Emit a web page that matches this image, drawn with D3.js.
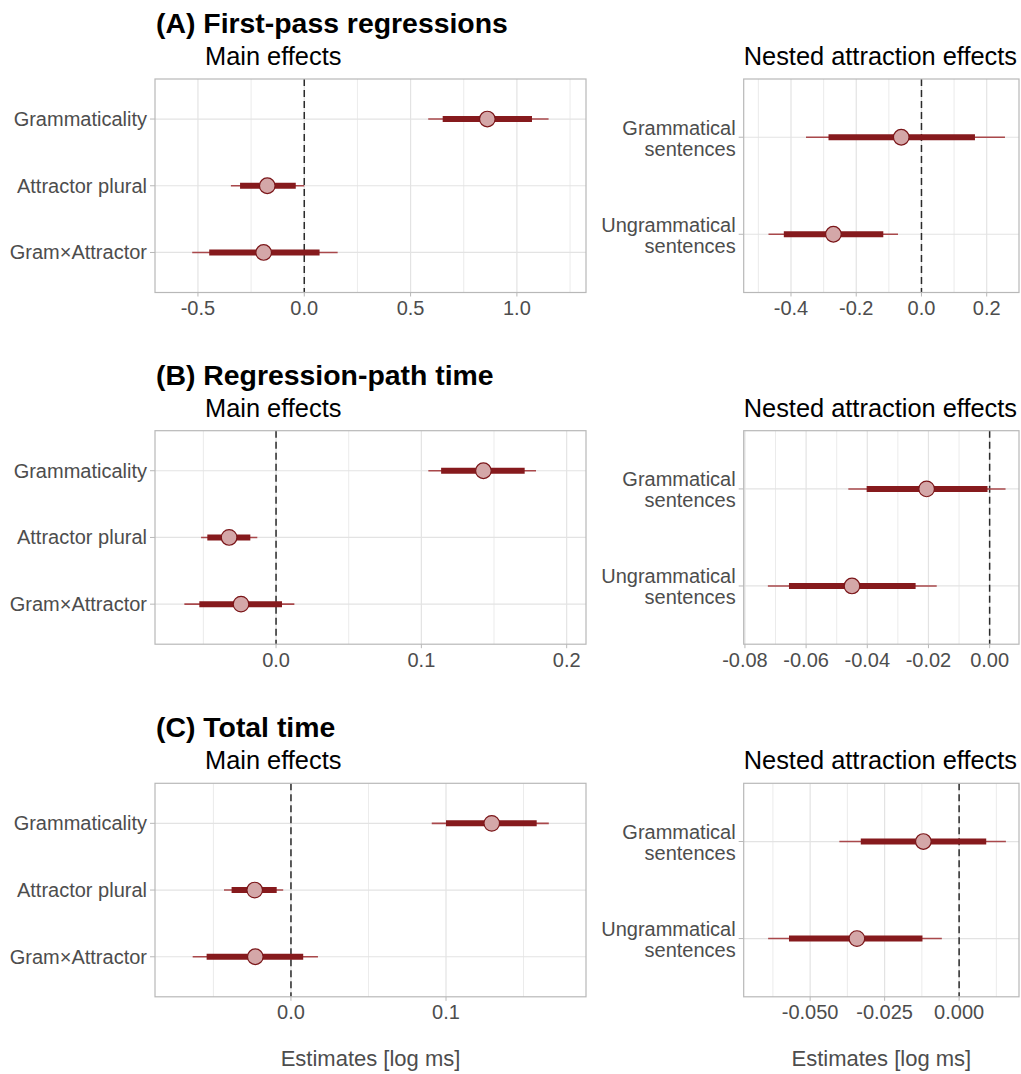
<!DOCTYPE html>
<html>
<head>
<meta charset="utf-8">
<script src="https://cdn.jsdelivr.net/npm/d3@7"></script>
<style>
  body { margin: 0; background: #fff; }
  text { font-family: "Liberation Sans", Arial, sans-serif; }
</style>
</head>
<body>
<svg id="chart" width="1021" height="1074"></svg>
<script>
// ---- data ----
const mainTerms = ["Grammaticality", "Attractor plural", "Gram×Attractor"];
const nestedTerms = ["Grammatical|sentences", "Ungrammatical|sentences"];

// (A) First-pass regressions
const fprMainEst = [0.861, -0.174, -0.191];
const fprMainInner = [[0.651, 1.071], [-0.302, -0.040], [-0.447, 0.072]];
const fprMainOuter = [[0.583, 1.149], [-0.345, 0.000], [-0.527, 0.157]];
const fprMainDomain = [-0.702, 1.325];
const fprMainTicks = [-0.5, 0, 0.5, 1.0];
const fprMainLabels = ["-0.5", "0.0", "0.5", "1.0"];

const fprNestEst = [-0.062, -0.270];
const fprNestInner = [[-0.285, 0.164], [-0.422, -0.117]];
const fprNestOuter = [[-0.354, 0.256], [-0.469, -0.072]];
const fprNestDomain = [-0.545, 0.299];
const fprNestTicks = [-0.4, -0.2, 0, 0.2];
const fprNestLabels = ["-0.4", "-0.2", "0.0", "0.2"];

// (B) Regression-path time
const rptMainEst = [0.1427, -0.0323, -0.0241];
const rptMainInner = [[0.1136, 0.1711], [-0.0473, -0.0177], [-0.0528, 0.0041]];
const rptMainOuter = [[0.1048, 0.1789], [-0.0516, -0.0129], [-0.0631, 0.0126]];
const rptMainDomain = [-0.0833, 0.2133];
const rptMainTicks = [0, 0.1, 0.2];
const rptMainLabels = ["0.0", "0.1", "0.2"];

const rptNestEst = [-0.0206, -0.0450];
const rptNestInner = [[-0.0402, -0.0007], [-0.0656, -0.0242]];
const rptNestOuter = [[-0.0462, 0.0052], [-0.0725, -0.0173]];
const rptNestDomain = [-0.0804, 0.0096];
const rptNestTicks = [-0.08, -0.06, -0.04, -0.02, 0];
const rptNestLabels = ["-0.08", "-0.06", "-0.04", "-0.02", "0.00"];

// (C) Total time
const ttMainEst = [0.1295, -0.0234, -0.0230];
const ttMainInner = [[0.1000, 0.1585], [-0.0383, -0.0092], [-0.0544, 0.0079]];
const ttMainOuter = [[0.0908, 0.1663], [-0.0432, -0.0050], [-0.0634, 0.0174]];
const ttMainDomain = [-0.0877, 0.1903];
const ttMainTicks = [0, 0.1];
const ttMainLabels = ["0.0", "0.1"];

const ttNestEst = [-0.0120, -0.0343];
const ttNestInner = [[-0.0330, 0.0091], [-0.0571, -0.0123]];
const ttNestOuter = [[-0.0402, 0.0157], [-0.0641, -0.0058]];
const ttNestDomain = [-0.0723, 0.0201];
const ttNestTicks = [-0.05, -0.025, 0];
const ttNestLabels = ["-0.050", "-0.025", "0.000"];

const sectionTitles = ["(A) First-pass regressions", "(B) Regression-path time", "(C) Total time"];
const axisTitle = "Estimates [log ms]";

// ---- layout ----
const svg = d3.select("#chart");
svg.append("rect").attr("width", 1021).attr("height", 1074).attr("fill", "#fff");

const leftX = [155, 586];
const rightX = [743.7, 1019];
const rowTops = [79, 430.7, 783.3];
const plotH = 213.5;

const col = {
    thick: "#861a1d",
    thin: "#a9484b",
    fill: "#d4a7a8",
    stroke: "#7a1518",
    grid: "#e3e3e3",
    border: "#b8b8b8",
    tickText: "#4d4d4d"
};

function drawPanel(x0, x1, top, terms, est, inner, outer, domain, ticks, labels, nested) {
    const g = svg.append("g");
    const bottom = top + plotH;

    const x = d3.scaleLinear().domain(domain).range([x0, x1]);
    const y = d3.scalePoint().domain(terms).range([top, bottom]).padding(0.6);

    // minor gridlines at half steps between major ticks
    const step = ticks.length > 1 ? ticks[1] - ticks[0] : 0.1;
    const minor = d3.range(ticks[0] - step / 2, domain[1], step)
        .filter(v => v > domain[0] && v < domain[1]);

    g.selectAll(".minor").data(minor).enter().append("line")
        .attr("x1", d => x(d)).attr("x2", d => x(d))
        .attr("y1", top).attr("y2", bottom)
        .attr("stroke", col.grid).attr("stroke-width", 0.7);

    g.selectAll(".major").data(ticks).enter().append("line")
        .attr("x1", d => x(d)).attr("x2", d => x(d))
        .attr("y1", top).attr("y2", bottom)
        .attr("stroke", col.grid).attr("stroke-width", 1.2);

    g.selectAll(".hgrid").data(terms).enter().append("line")
        .attr("x1", x0).attr("x2", x1)
        .attr("y1", d => y(d)).attr("y2", d => y(d))
        .attr("stroke", col.grid).attr("stroke-width", 1.2);

    // zero line
    g.append("line")
        .attr("x1", x(0)).attr("x2", x(0))
        .attr("y1", top).attr("y2", bottom)
        .attr("stroke", "#2b2b2b").attr("stroke-width", 1.5)
        .attr("stroke-dasharray", "7,4");

    // intervals
    const rows = terms.map((t, i) => ({ t: t, est: est[i], inner: inner[i], outer: outer[i] }));

    g.selectAll(".outer").data(rows).enter().append("line")
        .attr("x1", d => x(d.outer[0])).attr("x2", d => x(d.outer[1]))
        .attr("y1", d => y(d.t)).attr("y2", d => y(d.t))
        .attr("stroke", col.thin).attr("stroke-width", 1.6);

    g.selectAll(".inner").data(rows).enter().append("line")
        .attr("x1", d => x(d.inner[0])).attr("x2", d => x(d.inner[1]))
        .attr("y1", d => y(d.t)).attr("y2", d => y(d.t))
        .attr("stroke", col.thick).attr("stroke-width", 6);

    g.selectAll(".pt").data(rows).enter().append("circle")
        .attr("cx", d => x(d.est)).attr("cy", d => y(d.t))
        .attr("r", 7.8)
        .attr("fill", col.fill).attr("stroke", col.stroke).attr("stroke-width", 1.2);

    // border
    g.append("rect")
        .attr("x", x0).attr("y", top).attr("width", x1 - x0).attr("height", plotH)
        .attr("fill", "none").attr("stroke", col.border).attr("stroke-width", 1.2);

    // x ticks + labels
    g.selectAll(".xt").data(ticks).enter().append("line")
        .attr("x1", d => x(d)).attr("x2", d => x(d))
        .attr("y1", bottom).attr("y2", bottom + 4)
        .attr("stroke", col.border).attr("stroke-width", 1);

    g.selectAll(".xl").data(ticks).enter().append("text")
        .attr("x", d => x(d)).attr("y", bottom + 22.5)
        .attr("text-anchor", "middle")
        .attr("font-size", 20).attr("fill", col.tickText)
        .text((d, i) => labels[i]);

    // y ticks + labels
    g.selectAll(".yt").data(terms).enter().append("line")
        .attr("x1", x0 - 5).attr("x2", x0)
        .attr("y1", d => y(d)).attr("y2", d => y(d))
        .attr("stroke", col.border).attr("stroke-width", 1);

    const yl = g.selectAll(".yl").data(terms).enter().append("text")
        .attr("text-anchor", "end")
        .attr("font-size", 20).attr("fill", col.tickText);

    if (nested) {
        yl.each(function (d) {
            const parts = d.split("|");
            const t = d3.select(this);
            t.append("tspan").attr("x", x0 - 8).attr("y", y(d) - 2.5).text(parts[0]);
            t.append("tspan").attr("x", x0 - 8).attr("y", y(d) + 18.5).text(parts[1]);
        });
    } else {
        yl.attr("x", x0 - 8).attr("y", d => y(d) + 7).text(d => d);
    }
    return x;
}

const panels = [
    [fprMainEst, fprMainInner, fprMainOuter, fprMainDomain, fprMainTicks, fprMainLabels,
     fprNestEst, fprNestInner, fprNestOuter, fprNestDomain, fprNestTicks, fprNestLabels],
    [rptMainEst, rptMainInner, rptMainOuter, rptMainDomain, rptMainTicks, rptMainLabels,
     rptNestEst, rptNestInner, rptNestOuter, rptNestDomain, rptNestTicks, rptNestLabels],
    [ttMainEst, ttMainInner, ttMainOuter, ttMainDomain, ttMainTicks, ttMainLabels,
     ttNestEst, ttNestInner, ttNestOuter, ttNestDomain, ttNestTicks, ttNestLabels]
];

panels.forEach((p, k) => {
    const top = rowTops[k];

    svg.append("text")
        .attr("x", 156).attr("y", top - 46)
        .attr("font-size", 28.4).attr("font-weight", "bold").attr("fill", "#000")
        .text(sectionTitles[k]);

    svg.append("text")
        .attr("x", 205).attr("y", top - 14)
        .attr("font-size", 25.4).attr("fill", "#000")
        .text("Main effects");

    svg.append("text")
        .attr("x", rightX[0]).attr("y", top - 14)
        .attr("font-size", 25.4).attr("fill", "#000")
        .text("Nested attraction effects");

    drawPanel(leftX[0], leftX[1], top, mainTerms, p[0], p[1], p[2], p[3], p[4], p[5], false);
    drawPanel(rightX[0], rightX[1], top, nestedTerms, p[6], p[7], p[8], p[9], p[10], p[11], true);
});

// x axis titles under the bottom row
[leftX, rightX].forEach(r => {
    svg.append("text")
        .attr("x", (r[0] + r[1]) / 2).attr("y", 1066)
        .attr("text-anchor", "middle")
        .attr("font-size", 22).attr("fill", col.tickText)
        .text(axisTitle);
});
</script>
</body>
</html>
